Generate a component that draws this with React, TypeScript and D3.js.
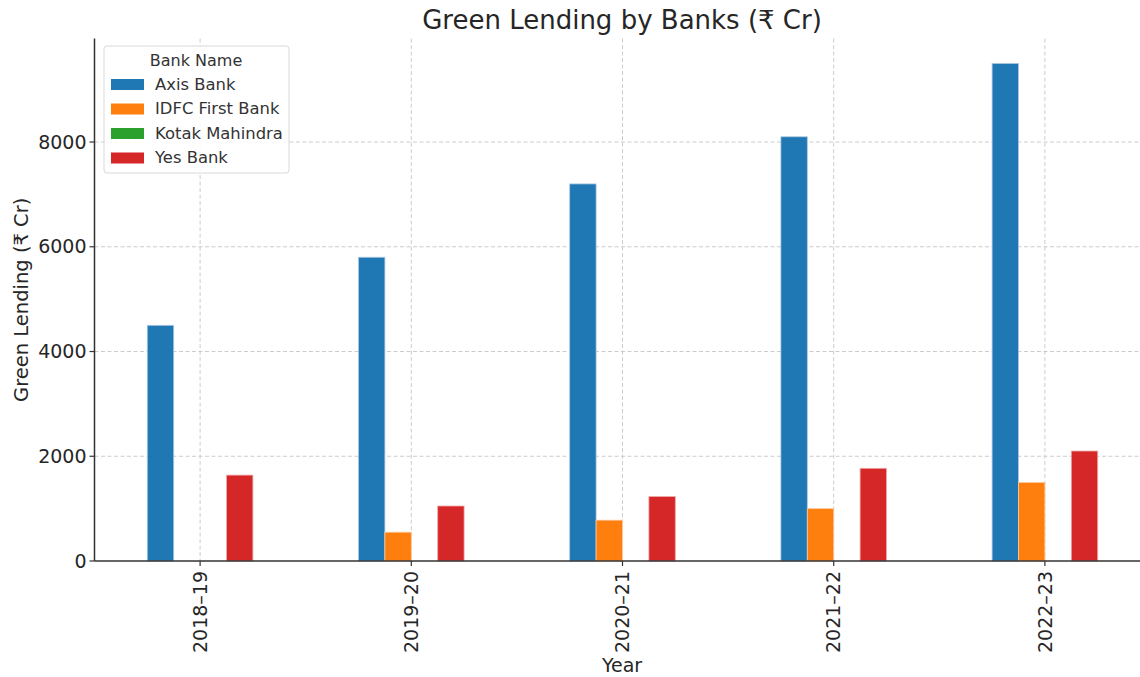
import { useEffect, useRef } from "react";
import * as d3 from "d3";

const years = ["2018–19", "2019–20", "2020–21", "2021–22", "2022–23"];
const banks = ["Axis Bank", "IDFC First Bank", "Kotak Mahindra", "Yes Bank"];
const colors = ["#1f77b4", "#ff7f0e", "#2ca02c", "#d62728"];
const edgeColors = ["#a9c8e0", "#ffc99e", "#a5d6a5", "#efa9a9"];

const axisBank = [4500, 5800, 7200, 8100, 9500];
const idfcBank = [0, 550, 780, 1000, 1500];
const kotakBank = [0, 0, 0, 0, 0];
const yesBank = [1640, 1050, 1230, 1770, 2100];

const yTicks = [0, 2000, 4000, 6000, 8000];

const FONT = "DejaVu Sans, Liberation Sans, sans-serif";
const W = 1140;
const H = 677;

export default function App() {
  const svgRef = useRef<SVGSVGElement>(null);

  useEffect(() => {
    if (!svgRef.current) return;
    const svg = d3.select(svgRef.current);
    svg.selectAll("*").remove();

    const series = [axisBank, idfcBank, kotakBank, yesBank];
    const left = 94.5;
    const right = 1150.5;
    const top = 38.6;
    const bottom = 561;

    const x = d3.scaleLinear().domain([-0.5, years.length - 0.5]).range([left, right]);
    const y = d3.scaleLinear().domain([0, 9975]).range([bottom, top]);

    // grid
    const grid = svg.append("g").attr("stroke", "#cccccc").attr("stroke-width", 1).attr("stroke-dasharray", "4,2.5");
    yTicks.slice(1).forEach((t) => {
      grid.append("line").attr("x1", left).attr("x2", right).attr("y1", y(t)).attr("y2", y(t));
    });
    years.forEach((_, i) => {
      grid.append("line").attr("x1", x(i)).attr("x2", x(i)).attr("y1", top).attr("y2", bottom);
    });

    // bars, pandas style: group width 0.5, four bars
    const bw = 0.5 / banks.length;
    series.forEach((vals, s) => {
      const off = -0.25 + bw * s;
      const pts = vals.map((v, i) => ({ i, v })).filter((d) => d.v > 0);
      svg
        .append("g")
        .selectAll("rect")
        .data(pts)
        .enter()
        .append("rect")
        .attr("x", (d) => x(d.i + off))
        .attr("width", x(bw) - x(0))
        .attr("y", (d) => y(d.v))
        .attr("height", (d) => bottom - y(d.v))
        .attr("fill", colors[s])
        .attr("stroke", edgeColors[s])
        .attr("stroke-width", 0.8);
    });

    // spines
    svg.append("line").attr("x1", left).attr("x2", left).attr("y1", top).attr("y2", bottom).attr("stroke", "#333").attr("stroke-width", 1.5);
    svg.append("line").attr("x1", left).attr("x2", right).attr("y1", bottom).attr("y2", bottom).attr("stroke", "#333").attr("stroke-width", 1.5);

    // y ticks
    const yt = svg.append("g");
    yTicks.forEach((t) => {
      yt.append("line").attr("x1", left - 5).attr("x2", left).attr("y1", y(t)).attr("y2", y(t)).attr("stroke", "#333").attr("stroke-width", 1.2);
      yt.append("text")
        .attr("x", left - 8)
        .attr("y", y(t))
        .attr("dy", "0.35em")
        .attr("text-anchor", "end")
        .attr("font-family", FONT)
        .attr("font-size", 19)
        .attr("fill", "#262626")
        .text(String(t));
    });

    // x ticks
    const xt = svg.append("g");
    years.forEach((yr, i) => {
      xt.append("line").attr("x1", x(i)).attr("x2", x(i)).attr("y1", bottom).attr("y2", bottom + 5).attr("stroke", "#333").attr("stroke-width", 1.2);
      xt.append("text")
        .attr("transform", `translate(${x(i)},${bottom + 10}) rotate(-90)`)
        .attr("dy", "0.35em")
        .attr("text-anchor", "end")
        .attr("font-family", FONT)
        .attr("font-size", 19)
        .attr("fill", "#262626")
        .text(yr);
    });

    // titles
    svg.append("text")
      .attr("x", 622)
      .attr("y", 29)
      .attr("text-anchor", "middle")
      .attr("font-family", FONT)
      .attr("font-size", 26)
      .attr("fill", "#262626")
      .text("Green Lending by Banks (₹ Cr)");
    svg.append("text")
      .attr("x", 622)
      .attr("y", 672)
      .attr("text-anchor", "middle")
      .attr("font-family", FONT)
      .attr("font-size", 19)
      .attr("fill", "#262626")
      .text("Year");
    svg.append("text")
      .attr("transform", `translate(28,${(top + bottom) / 2}) rotate(-90)`)
      .attr("text-anchor", "middle")
      .attr("font-family", FONT)
      .attr("font-size", 19.5)
      .attr("fill", "#262626")
      .text("Green Lending (₹ Cr)");

    // legend
    const lg = svg.append("g").attr("transform", "translate(104,46)");
    lg.append("rect")
      .attr("width", 185)
      .attr("height", 127)
      .attr("rx", 3)
      .attr("fill", "white")
      .attr("fill-opacity", 0.85)
      .attr("stroke", "#d9d9d9");
    lg.append("text")
      .attr("x", 92)
      .attr("y", 20)
      .attr("text-anchor", "middle")
      .attr("font-family", FONT)
      .attr("font-size", 16)
      .attr("fill", "#333")
      .text("Bank Name");
    banks.forEach((b, i) => {
      const ly = 38 + i * 24.5;
      lg.append("rect").attr("x", 7).attr("y", ly - 5).attr("width", 33).attr("height", 11).attr("fill", colors[i]);
      lg.append("text")
        .attr("x", 51)
        .attr("y", ly)
        .attr("dy", "0.35em")
        .attr("font-family", FONT)
        .attr("font-size", 16.4)
        .attr("fill", "#333")
        .text(b);
    });
  }, []);

  return (
    <svg
      ref={svgRef}
      width={W}
      height={H}
      viewBox={`0 0 ${W} ${H}`}
      style={{ position: "absolute", left: 0, top: 0, background: "white" }}
    />
  );
}
